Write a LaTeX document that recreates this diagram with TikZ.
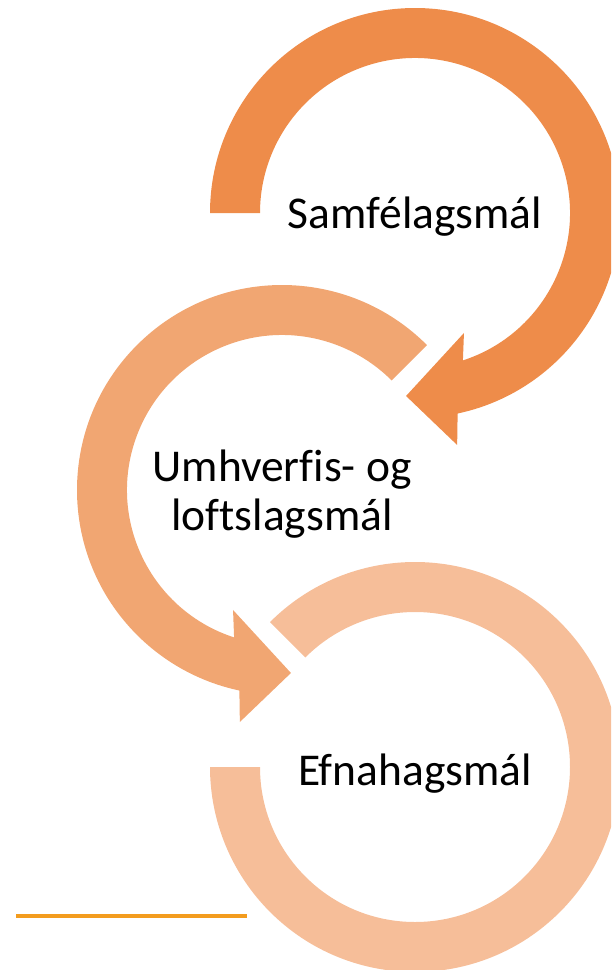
\documentclass[tikz,border=0pt]{standalone}
\usepackage{fontspec}
\setmainfont[Ligatures=NoCommon]{Carlito}
\usetikzlibrary{calc}
\definecolor{ringA}{RGB}{238,140,74}
\definecolor{ringB}{RGB}{241,166,114}
\definecolor{ringC}{RGB}{246,190,153}
\definecolor{barcol}{RGB}{243,156,30}
\tikzset{
  lbl/.style={inner sep=0pt, font=\fontsize{45.5}{49}\selectfont, text=black},
}
\begin{document}
\begin{tikzpicture}[x=1pt,y=1pt]
\useasboundingbox (0,0) rectangle (611,-970);
\clip (0,0) rectangle (611,-970);
\coordinate (cA) at (415,-213);
\coordinate (cB) at (282,-490);
\coordinate (cC) at (415,-767);
% bottom ring (no arrowhead)
\fill[ringC] ($(cC)+(135:205)$) arc[start angle=135, end angle=-180, radius=205]
  -- ($(cC)+(180:155)$) arc[start angle=-180, end angle=135, radius=155] -- cycle;
% middle ring
\fill[ringB] ($(cB)+(45:205)$) arc[start angle=45, end angle=258, radius=205]
  -- ($(cB)+(259.7:235.8)$) -- ($(cB)+(272.8:183.2)$) -- ($(cB)+(247.8:129.6)$)
  -- ($(cB)+(252:155)$) arc[start angle=252, end angle=45, radius=155] -- cycle;
% top ring
\fill[ringA] ($(cA)+(180:205)$) arc[start angle=180, end angle=-78, radius=205]
  -- ($(cA)+(-79.7:235.8)$) -- ($(cA)+(-92.8:183.2)$) -- ($(cA)+(-67.8:129.6)$)
  -- ($(cA)+(-72:155)$) arc[start angle=-72, end angle=180, radius=155] -- cycle;
% labels
\node[lbl, anchor=base] (tA) at (415,-228) {Samfélagsmál};
\node[lbl, anchor=base] (tB1) at (282,-481) {Umhverfis- og};
\node[lbl, anchor=base] (tB2) at (282,-530) {loftslagsmál};
\node[lbl, anchor=base] (tC) at (415,-785) {Efnahagsmál};
% bottom bar
\coordinate (b1) at (16,-916);
\coordinate (b2) at (247,-916);
\draw[barcol, line width=4.5] (b1) -- (b2);
\end{tikzpicture}
\end{document}
